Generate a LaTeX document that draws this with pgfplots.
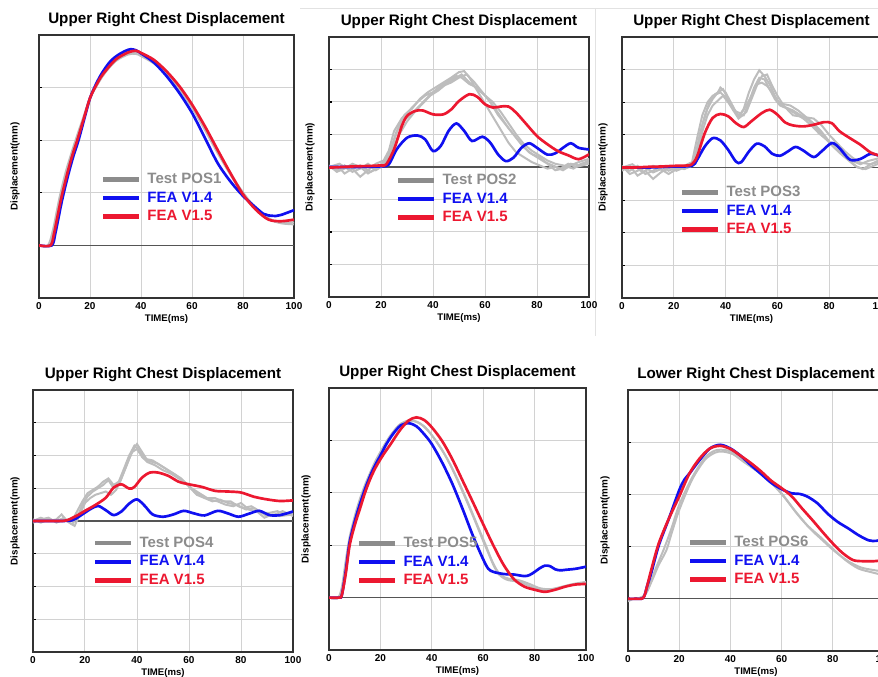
\documentclass[border=0pt]{standalone}
\usepackage{pgfplots}
\pgfplotsset{compat=1.18}
\usepackage{fontspec}
\setmainfont{Liberation Sans}
\definecolor{gridc}{HTML}{D2D2D2}
\definecolor{axc}{HTML}{333333}
\definecolor{zeroc}{HTML}{555555}
\definecolor{testc}{HTML}{BDBDBD}
\definecolor{testl}{HTML}{8C8C8C}
\definecolor{feab}{HTML}{1010F0}
\definecolor{fear}{HTML}{EC1830}
\definecolor{sepc}{HTML}{E2E2E2}
\pgfplotsset{
 panel/.style={
  scale only axis, anchor=south west,
  xmin=0, xmax=100, xtick={0,20,...,100},
  grid=major, major grid style={draw=gridc, line width=0.75pt},
  axis line style={draw=axc, line width=1pt},
  tick align=inside, ytick pos=left, xtick pos=bottom,
  yticklabels={},
  major tick length=2.5pt,
  xtick style={draw=none},
  ytick style={draw=black, line width=0.8pt},
  tick label style={font=\bfseries\fontsize{7.5}{9}\selectfont},
  /pgf/number format/assume math mode=true,
  xticklabel style={anchor=base, yshift=-8.7pt},
  xlabel={TIME(ms)},
  xlabel style={font=\bfseries\fontsize{7.2}{9}\selectfont, at={(axis description cs:0.5,0)}, anchor=base, yshift=-18pt},
  ylabel={Displacement(mm)},
  ylabel style={font=\bfseries\fontsize{7.4}{9}\selectfont, anchor=center},
  title style={font=\bfseries\fontsize{11.4}{13}\selectfont, at={(axis description cs:0.5,1)}, anchor=base, yshift=2.5pt},
  extra y ticks={0}, extra y tick labels={},
  extra y tick style={grid=major, major grid style={draw=zeroc, line width=1pt}},
  legend style={draw=none, fill=none, inner sep=0pt, anchor=west,
    font=\bfseries\fontsize{11.25}{13}\selectfont, row sep=3pt, column sep=4.5pt,
    nodes={inner sep=0pt, text height=8.5pt, text depth=2.4pt}},
  legend cell align=left,
  legend image code/.code={\draw[#1, line width=3.2pt] (0pt,0pt) -- (27pt,0pt);},
 },
 tst/.style={color=testc, line width=1.5pt, forget plot},
 fb/.style={color=feab, line width=2pt, smooth, tension=0.5},
 fr/.style={color=fear, line width=2pt, smooth, tension=0.5},
}
\newcommand\legT[1]{\addlegendimage{color=testl}\addlegendentry{\textcolor{testl}{#1}}}
\begin{document}
\begin{tikzpicture}
\draw[draw=sepc, line width=0.6pt] (225pt,501.75pt) -- (658.5pt,501.75pt);
\draw[draw=sepc, line width=0.6pt] (446.25pt,501.75pt) -- (446.25pt,255.75pt);

% ---------- Panel 1 ----------
\begin{axis}[panel, at={(29.25pt,284.25pt)}, width=191.25pt, height=197.25pt,
  ymin=-1, ymax=4, ytick={-1,0,...,4},
  title={Upper Right Chest Displacement},
  ylabel style={at={(axis description cs:-0.094,0.5)}},
  legend style={at={(axis description cs:0.243,0.38)}}]
\legT{Test POS1}
\addplot[tst, smooth] coordinates {(0,0)(3.5,0)(5.5,0.3)(8,0.9)(10.5,1.4)(13,1.8)(15,2.1)(17.5,2.45)(20,2.8)(25,3.22)(30,3.5)(35,3.63)(38,3.64)(40,3.6)(45,3.46)(50,3.25)(55,2.97)(60,2.62)(65,2.2)(70,1.76)(75,1.35)(80,0.97)(85,0.7)(90,0.5)(95,0.42)(100,0.4)};
\addplot[tst, smooth] coordinates {(0,0)(4,0)(6,0.3)(8.5,0.9)(11,1.4)(13.5,1.8)(16,2.15)(18.5,2.55)(21,2.9)(26,3.3)(31,3.55)(36,3.66)(39,3.67)(42,3.6)(47,3.44)(52,3.2)(57,2.88)(62,2.5)(67,2.07)(72,1.63)(77,1.22)(82,0.88)(87,0.62)(92,0.47)(96,0.43)(100,0.44)};
\addplot[fb] coordinates {(0,0)(5,0)(6.5,0.25)(9,0.85)(11.5,1.35)(13.5,1.7)(15.5,2.0)(18,2.45)(20,2.8)(22.5,3.08)(25,3.3)(28,3.5)(31,3.62)(34,3.7)(36,3.73)(38,3.71)(40,3.65)(45,3.48)(50,3.22)(55,2.9)(60,2.52)(65,2.05)(70,1.57)(75,1.22)(80,0.94)(85,0.72)(88,0.6)(90,0.57)(93,0.56)(95,0.58)(100,0.67)};
\addlegendentry{\textcolor{feab}{FEA V1.4}}
\addplot[fr] coordinates {(0,0)(4.5,0)(6,0.25)(8.5,0.85)(11,1.35)(13,1.7)(15,2.0)(17.5,2.4)(20,2.8)(22.5,3.05)(25,3.25)(30,3.53)(35,3.67)(38,3.7)(40,3.66)(45,3.53)(50,3.31)(55,3.03)(60,2.68)(65,2.27)(70,1.82)(75,1.38)(80,0.97)(85,0.68)(90,0.49)(95,0.46)(100,0.49)};
\addlegendentry{\textcolor{fear}{FEA V1.5}}
\end{axis}

% ---------- Panel 2 ----------
\begin{axis}[panel, at={(246.75pt,285pt)}, width=195pt, height=195pt,
  ymin=-4, ymax=4, ytick={-4,-3,...,4},
  title={Upper Right Chest Displacement},
  ylabel style={at={(axis description cs:-0.073,0.5)}},
  legend style={at={(axis description cs:0.258,0.377)}}]
\legT{Test POS2}
\addplot[tst] coordinates {(0,0)(3,-0.1)(6,0.05)(9,-0.15)(12,-0.05)(15,0.1)(18,-0.1)(21,0.05)(23,0.25)(25,0.8)(27,1.3)(29,1.6)(32,1.8)(35,2.1)(38,2.3)(41,2.45)(44,2.6)(47,2.75)(50,2.92)(52,2.95)(54,2.75)(57,2.35)(60,1.95)(63,1.55)(66,1.15)(69,0.75)(72,0.45)(75,0.3)(78,0.15)(81,0.05)(84,-0.05)(87,0.0)(90,-0.1)(93,0.05)(96,0.15)(100,0.25)};
\addplot[tst] coordinates {(0,-0.05)(3,0.05)(6,-0.2)(9,-0.05)(12,-0.3)(15,-0.1)(18,0.1)(21,0.2)(23,0.5)(25,1.1)(28,1.5)(31,1.75)(34,2.0)(37,2.2)(40,2.3)(43,2.5)(46,2.65)(49,2.8)(51,2.75)(54,2.55)(57,2.45)(60,2.2)(63,1.9)(66,1.55)(69,1.2)(72,0.9)(75,0.6)(78,0.4)(81,0.3)(84,0.1)(87,-0.1)(90,-0.05)(93,0.1)(96,0.05)(100,0.2)};
\addplot[tst] coordinates {(0,0.05)(3,-0.15)(6,-0.05)(9,0.1)(12,0.0)(15,-0.2)(18,-0.05)(21,0.15)(24,0.6)(26,1.1)(29,1.45)(32,1.65)(35,1.9)(38,2.15)(41,2.35)(44,2.5)(47,2.6)(50,2.75)(53,2.85)(56,2.6)(59,2.3)(62,2.0)(65,1.6)(68,1.3)(71,1.0)(74,0.7)(77,0.45)(80,0.3)(83,0.15)(86,0.05)(89,-0.05)(92,0.1)(95,0.0)(100,0.1)};
\addplot[tst] coordinates {(0,0)(4,0.1)(8,-0.1)(12,0.05)(16,-0.15)(20,0.0)(22,0.2)(24,0.5)(27,1.0)(30,1.4)(33,1.7)(36,1.95)(39,2.2)(42,2.35)(45,2.55)(48,2.7)(51,2.85)(54,2.6)(57,2.4)(60,2.2)(63,2.0)(66,1.7)(69,1.35)(72,1.0)(75,0.7)(78,0.5)(81,0.35)(84,0.2)(87,0.1)(90,0.05)(94,-0.05)(97,0.1)(100,0.15)};
\addplot[fb] coordinates {(0,0)(10,0)(20,0.02)(23,0.08)(26,0.54)(30,0.9)(34,0.97)(37,0.85)(40,0.49)(43,0.65)(46,1.11)(49,1.34)(52,1.11)(55,0.8)(59,0.93)(62,0.75)(65,0.39)(68,0.18)(71,0.29)(74,0.59)(77,0.73)(80,0.59)(84,0.38)(87,0.42)(90,0.59)(93,0.73)(96,0.59)(100,0.54)};
\addlegendentry{\textcolor{feab}{FEA V1.4}}
\addplot[fr] coordinates {(0,-0.02)(5,0.0)(10,0.02)(15,0.03)(20,0.05)(22,0.08)(25,0.54)(28,1.26)(30,1.57)(33,1.72)(36,1.74)(40,1.62)(44,1.62)(47,1.77)(50,2.03)(54,2.24)(57,2.16)(60,1.93)(63,1.83)(66,1.86)(69,1.86)(72,1.67)(76,1.31)(80,0.95)(84,0.7)(88,0.49)(92,0.36)(96,0.24)(100,0.39)};
\addlegendentry{\textcolor{fear}{FEA V1.5}}
\end{axis}

% ---------- Panel 3 ----------
\begin{axis}[panel, at={(466.5pt,284.25pt)}, width=194.25pt, height=195.75pt,
  ymin=-4, ymax=4, ytick={-4,-3,...,4},
  title={Upper Right Chest Displacement},
  ylabel style={at={(axis description cs:-0.073,0.5)}},
  legend style={at={(axis description cs:0.224,0.333)}}]
\legT{Test POS3}
\addplot[tst] coordinates {(0,0)(3,-0.1)(6,0.05)(9,-0.2)(12,-0.1)(15,0.05)(18,-0.1)(21,0.0)(24,0.05)(27,0.1)(29,0.6)(31,1.3)(33,1.8)(35,2.1)(37,2.3)(38,2.45)(40,2.3)(42,2.0)(44,1.7)(45,1.55)(47,1.8)(49,2.3)(51,2.7)(53,2.98)(55,2.8)(57,2.55)(59,2.2)(61,1.95)(63,1.85)(66,1.75)(69,1.6)(72,1.45)(75,1.2)(78,0.95)(81,0.7)(84,0.45)(87,0.25)(90,0.05)(93,-0.05)(96,0.1)(100,0.2)};
\addplot[tst] coordinates {(0,-0.1)(3,0.05)(6,-0.25)(9,-0.1)(12,-0.35)(15,-0.15)(18,0.0)(21,-0.1)(24,0.0)(27,0.15)(29,0.9)(31,1.6)(33,2.0)(35,2.2)(38,2.3)(40,2.15)(42,1.9)(45,1.6)(47,1.6)(49,2.0)(51,2.45)(53,2.75)(55,2.7)(57,2.4)(59,2.1)(61,1.9)(64,1.8)(67,1.65)(70,1.5)(73,1.3)(76,1.05)(79,0.85)(82,0.6)(85,0.4)(88,0.2)(91,0.0)(94,-0.05)(97,0.05)(100,0.15)};
\addplot[tst] coordinates {(0,0.05)(3,-0.2)(6,-0.1)(9,0.0)(12,-0.15)(15,-0.05)(18,-0.2)(21,-0.05)(24,0.05)(28,0.2)(30,1.0)(32,1.6)(34,2.05)(36,2.25)(39,2.4)(41,2.1)(43,1.75)(45,1.5)(48,1.7)(50,2.1)(52,2.5)(54,2.8)(56,2.85)(58,2.5)(60,2.2)(62,1.95)(65,1.9)(68,1.75)(71,1.55)(74,1.35)(77,1.1)(80,0.8)(83,0.55)(86,0.35)(89,0.2)(92,0.1)(95,0.2)(100,0.3)};
\addplot[tst] coordinates {(0,0)(4,0.1)(8,-0.15)(12,0.05)(16,-0.1)(20,0.05)(24,-0.05)(27,0.05)(29,0.4)(31,1.1)(33,1.6)(35,1.9)(37,2.05)(39,2.2)(41,2.0)(43,1.75)(46,1.65)(48,1.9)(50,2.2)(52,2.55)(54,2.6)(56,2.5)(58,2.3)(60,2.05)(63,1.85)(66,1.6)(70,1.55)(74,1.5)(77,1.3)(80,1.0)(83,0.75)(86,0.5)(89,0.3)(92,0.15)(96,0.1)(100,0.25)};
\addplot[fb] coordinates {(0,0)(10,0)(20,0.03)(27,0.05)(29,0.24)(32,0.65)(35,0.9)(38,0.83)(41,0.54)(44,0.18)(46,0.16)(49,0.49)(52,0.73)(55,0.65)(58,0.42)(61,0.36)(64,0.49)(67,0.63)(70,0.52)(74,0.32)(77,0.49)(81,0.75)(84,0.59)(88,0.24)(92,0.26)(96,0.42)(100,0.34)};
\addlegendentry{\textcolor{feab}{FEA V1.4}}
\addplot[fr] coordinates {(0,0)(5,0.0)(10,0.02)(15,0.03)(20,0.05)(25,0.06)(27,0.1)(29,0.34)(32,1.06)(35,1.52)(38,1.64)(41,1.57)(44,1.36)(47,1.24)(50,1.42)(54,1.67)(57,1.77)(60,1.62)(63,1.38)(66,1.29)(70,1.26)(74,1.31)(78,1.39)(81,1.36)(84,1.11)(88,0.9)(92,0.7)(96,0.46)(100,0.35)};
\addlegendentry{\textcolor{fear}{FEA V1.5}}
\end{axis}

% ---------- Panel 4 ----------
\begin{axis}[panel, at={(24.75pt,18.75pt)}, width=195pt, height=196.5pt,
  ymin=-4, ymax=4, ytick={-4,-3,...,4},
  title={Upper Right Chest Displacement},
  ylabel style={at={(axis description cs:-0.069,0.5)}},
  legend style={at={(axis description cs:0.231,0.344)}}]
\legT{Test POS4}
\addplot[tst] coordinates {(0,0)(3,0.1)(6,0.0)(9,0.05)(11,0.2)(13,0.0)(15,-0.1)(17,0.1)(19,0.5)(21,0.75)(23,0.9)(25,1.0)(27,1.1)(29,1.25)(31,1.0)(33,1.1)(35,1.5)(37,1.9)(39,2.25)(40,2.35)(42,2.1)(44,1.85)(46,1.8)(48,1.75)(51,1.6)(54,1.45)(57,1.3)(60,1.05)(63,0.8)(66,0.7)(69,0.6)(72,0.65)(75,0.55)(78,0.5)(81,0.4)(84,0.45)(87,0.3)(90,0.15)(93,0.2)(96,0.3)(100,0.15)};
\addplot[tst] coordinates {(0,0.05)(3,-0.05)(6,0.05)(9,0.0)(12,0.1)(14,-0.05)(16,-0.15)(18,0.2)(20,0.55)(22,0.7)(24,0.8)(26,0.85)(28,0.9)(30,0.8)(32,0.95)(34,1.3)(36,1.7)(38,2.1)(40,2.2)(42,1.95)(44,1.8)(47,1.7)(50,1.55)(53,1.45)(56,1.3)(59,1.15)(62,0.9)(65,0.75)(68,0.65)(71,0.6)(74,0.5)(77,0.45)(80,0.55)(83,0.35)(86,0.3)(89,0.1)(92,0.2)(95,0.15)(100,0.2)};
\addplot[tst] coordinates {(0,-0.05)(3,0.05)(6,0.1)(9,-0.05)(12,0.05)(15,0.0)(17,0.3)(19,0.6)(21,0.85)(23,0.95)(25,1.05)(27,1.2)(29,1.3)(31,1.1)(33,1.2)(35,1.6)(37,2.0)(39,2.3)(41,2.15)(43,1.9)(46,1.85)(49,1.7)(52,1.55)(55,1.4)(58,1.2)(61,1.0)(64,0.85)(67,0.7)(70,0.7)(73,0.6)(76,0.6)(79,0.45)(82,0.35)(85,0.4)(88,0.25)(91,0.25)(94,0.3)(97,0.2)(100,0.25)};
\addplot[fb] coordinates {(0,0)(10,0)(15,0.02)(18,0.15)(22,0.36)(25,0.46)(28,0.33)(31,0.18)(34,0.29)(37,0.53)(40,0.66)(43,0.46)(46,0.2)(50,0.13)(54,0.2)(58,0.31)(62,0.23)(66,0.17)(71,0.31)(75,0.23)(79,0.13)(83,0.22)(87,0.31)(91,0.18)(95,0.18)(100,0.29)};
\addlegendentry{\textcolor{feab}{FEA V1.4}}
\addplot[fr] coordinates {(0,0)(5,0)(10,0)(13,0.02)(17,0.17)(20,0.31)(24,0.49)(28,0.71)(31,1.02)(34,1.12)(37,0.99)(39,1.04)(42,1.33)(45,1.48)(48,1.48)(52,1.38)(56,1.2)(60,1.12)(65,1.04)(70,0.92)(75,0.9)(80,0.87)(85,0.74)(90,0.66)(95,0.61)(100,0.63)};
\addlegendentry{\textcolor{fear}{FEA V1.5}}
\end{axis}

% ---------- Panel 5 ----------
\begin{axis}[panel, at={(246.75pt,20.25pt)}, width=192.75pt, height=196.5pt,
  ymin=-1, ymax=4, ytick={-1,0,...,4},
  title={Upper Right Chest Displacement},
  ylabel style={at={(axis description cs:-0.089,0.5)}},
  legend style={at={(axis description cs:0.109,0.336)}}]
\legT{Test POS5}
\addplot[tst, smooth] coordinates {(0,0)(3.5,0)(5,0.2)(6.5,0.7)(8,1.15)(10,1.55)(12,1.88)(14,2.15)(16,2.38)(18,2.6)(20,2.78)(22,2.95)(24,3.1)(26,3.22)(28,3.32)(31,3.38)(34,3.36)(37,3.27)(40,3.1)(44,2.82)(48,2.45)(52,2.02)(56,1.56)(60,1.08)(62,0.85)(64,0.62)(66,0.45)(68,0.37)(70,0.33)(74,0.3)(78,0.22)(82,0.15)(86,0.15)(90,0.19)(95,0.25)(100,0.28)};
\addplot[tst, smooth] coordinates {(0,0)(4,0)(5.5,0.25)(7,0.75)(9,1.25)(11,1.65)(13,1.98)(15,2.25)(17,2.48)(19,2.67)(21,2.85)(23,3.02)(25,3.16)(27,3.28)(30,3.36)(33,3.37)(36,3.3)(39,3.16)(42,2.96)(46,2.65)(50,2.26)(54,1.82)(58,1.35)(61,1.0)(63,0.75)(65,0.55)(67,0.42)(70,0.36)(74,0.33)(78,0.26)(82,0.18)(86,0.16)(90,0.2)(95,0.26)(100,0.3)};
\addplot[fb] coordinates {(0,0)(4,0)(5,0.05)(6.5,0.5)(8,1.05)(10,1.45)(12,1.78)(14,2.07)(16,2.32)(18,2.53)(20,2.71)(22,2.9)(24,3.06)(26,3.19)(28,3.29)(31,3.33)(34,3.27)(37,3.12)(40,2.93)(44,2.58)(48,2.17)(52,1.69)(56,1.18)(60,0.73)(62,0.55)(64,0.49)(68,0.45)(72,0.44)(76,0.41)(78,0.43)(80,0.49)(82,0.56)(84,0.61)(86,0.6)(88,0.54)(90,0.52)(92,0.53)(96,0.55)(100,0.59)};
\addlegendentry{\textcolor{feab}{FEA V1.4}}
\addplot[fr] coordinates {(0,0)(4,0)(5,0.05)(6.5,0.45)(8,0.99)(10,1.38)(12,1.69)(14,2.0)(16,2.26)(18,2.47)(20,2.64)(22,2.79)(24,2.93)(26,3.08)(28,3.22)(31,3.38)(34,3.44)(37,3.39)(40,3.25)(44,2.99)(48,2.64)(52,2.23)(56,1.82)(60,1.4)(64,0.99)(68,0.62)(72,0.35)(76,0.21)(80,0.15)(84,0.11)(88,0.15)(92,0.21)(96,0.25)(100,0.26)};
\addlegendentry{\textcolor{fear}{FEA V1.5}}
\end{axis}

% ---------- Panel 6 ----------
\begin{axis}[panel, at={(471pt,19.5pt)}, width=192pt, height=195.75pt,
  ymin=-1, ymax=4, ytick={-1,0,...,4},
  title={Lower Right Chest Displacement},
  ylabel style={at={(axis description cs:-0.09,0.5)}},
  legend style={at={(axis description cs:0.234,0.345)}}]
\legT{Test POS6}
\addplot[tst, smooth] coordinates {(0,-0.05)(2,0)(5,0.02)(7,0.1)(10,0.42)(12,0.65)(15,0.93)(17,1.25)(20,1.7)(25,2.28)(30,2.66)(34,2.8)(37,2.82)(41,2.77)(45,2.63)(50,2.46)(55,2.28)(60,2.02)(65,1.7)(70,1.41)(75,1.19)(80,0.96)(85,0.74)(90,0.58)(95,0.51)(100,0.45)};
\addplot[tst, smooth] coordinates {(0,0)(3,0)(6,0.05)(8,0.2)(11,0.6)(14,0.95)(17,1.35)(20,1.8)(25,2.32)(30,2.7)(34,2.84)(38,2.85)(42,2.78)(46,2.62)(51,2.44)(56,2.22)(61,1.95)(66,1.63)(71,1.35)(76,1.12)(81,0.9)(86,0.72)(91,0.6)(96,0.55)(100,0.52)};
\addplot[fb] coordinates {(0,0)(3,0)(6,0.02)(7.5,0.25)(9,0.48)(12,1.02)(16,1.54)(20,2.08)(22,2.28)(24,2.4)(28,2.66)(32,2.88)(36,2.95)(40,2.88)(44,2.74)(48,2.56)(52,2.39)(56,2.22)(60,2.1)(64,2.02)(67,2.01)(70,1.96)(74,1.83)(78,1.63)(82,1.47)(86,1.35)(90,1.22)(94,1.12)(97,1.11)(100,1.15)};
\addlegendentry{\textcolor{feab}{FEA V1.4}}
\addplot[fr] coordinates {(0,0)(3,0)(6,0.02)(7.5,0.25)(9,0.54)(12,1.06)(16,1.54)(20,1.96)(24,2.4)(28,2.69)(32,2.88)(36,2.93)(40,2.87)(44,2.74)(48,2.6)(52,2.44)(56,2.26)(60,2.12)(64,1.96)(68,1.73)(72,1.51)(76,1.28)(80,1.06)(84,0.87)(88,0.74)(92,0.72)(96,0.72)(100,0.74)};
\addlegendentry{\textcolor{fear}{FEA V1.5}}
\end{axis}

\pgfresetboundingbox
\path[use as bounding box] (0pt,0pt) rectangle (658.5pt,507.75pt);
\end{tikzpicture}
\end{document}
